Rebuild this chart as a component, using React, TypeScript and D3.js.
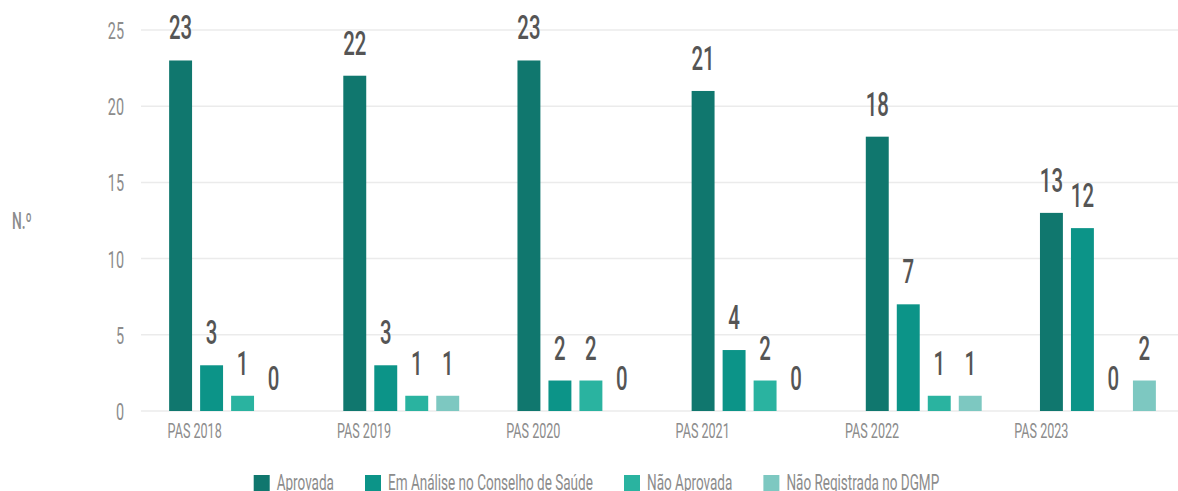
import React, { useEffect, useRef } from "react";
import * as d3 from "d3";

// data
const years = ["PAS 2018", "PAS 2019", "PAS 2020", "PAS 2021", "PAS 2022", "PAS 2023"];
const seriesNames = ["Aprovada", "Em Análise no Conselho de Saúde", "Não Aprovada", "Não Registrada no DGMP"];
const aprovada = [23, 22, 23, 21, 18, 13];
const emAnalise = [3, 3, 2, 4, 7, 12];
const naoAprovada = [1, 1, 2, 2, 1, 0];
const naoRegistrada = [0, 1, 0, 0, 1, 2];
const yTicks = [0, 5, 10, 15, 20, 25];
const colors = ["#10776e", "#0c9488", "#2ab3a0", "#7dc8c1"];

const W = 1178, H = 491;
const FONT = "Roboto, 'Noto Sans', sans-serif";
const SQ = 0.6; // horizontal squeeze -> condensed look

const App = () => {
	const svgRef = useRef<SVGSVGElement>(null);

	useEffect(() => {
		const svg = d3.select(svgRef.current);
		svg.selectAll("*").remove();

		const values = [aprovada, emAnalise, naoAprovada, naoRegistrada];
		const rows = years.map((yr, i) => ({ yr, vals: values.map(s => s[i]) }));

		const y = d3.scaleLinear().domain([0, 25]).range([411, 30]);
		const x0 = d3.scaleBand().domain(years).range([140, 1185]);
		const x1 = d3.scaleBand<number>().domain([0, 1, 2, 3])
			.range([0, x0.bandwidth()])
			.paddingInner(0.26)
			.paddingOuter(0.94);
		// category labels sit on their own slightly narrower spacing
		const xl = d3.scaleBand().domain(years).range([110, 1126]);

		const squeeze = (x: number, yy: number, s = SQ) => `translate(${x},${yy}) scale(${s},1)`;

		// grid
		svg.append("g")
			.selectAll("line")
			.data(yTicks)
			.join("line")
			.attr("x1", 141).attr("x2", W)
			.attr("y1", d => y(d)).attr("y2", d => y(d))
			.style("stroke", "#ebebeb")
			.style("stroke-width", 1.5);

		// y tick labels
		svg.append("g")
			.selectAll("text")
			.data(yTicks)
			.join("text")
			.attr("transform", d => squeeze(124, y(d) + 9))
			.attr("text-anchor", "end")
			.attr("font-family", FONT)
			.attr("font-size", 24)
			.style("fill", "#8c8c8c")
			.text(d => d);

		svg.append("text")
			.attr("transform", squeeze(12, 229))
			.attr("font-family", FONT)
			.attr("font-size", 23)
			.attr("font-weight", 500)
			.style("fill", "#8c8c8c")
			.text("N.º");

		// bars
		const groups = svg.append("g")
			.selectAll("g")
			.data(rows)
			.join("g")
			.attr("transform", d => `translate(${x0(d.yr)},0)`);

		groups.selectAll("rect")
			.data(d => d.vals)
			.join("rect")
			.attr("x", (d, i) => x1(i)!)
			.attr("y", d => y(d))
			.attr("width", x1.bandwidth())
			.attr("height", d => y(0) - y(d))
			.style("fill", (d, i) => colors[i]);

		groups.selectAll("text")
			.data(d => d.vals)
			.join("text")
			.attr("transform", (d, i) => squeeze(x1(i)! + x1.bandwidth() / 2, y(d) - 21))
			.attr("text-anchor", "middle")
			.attr("font-family", FONT)
			.attr("font-size", 34)
			.attr("font-weight", 500)
			.style("fill", "#555555")
			.text(d => d);

		// x labels
		svg.append("g")
			.selectAll("text")
			.data(years)
			.join("text")
			.attr("transform", d => squeeze(xl(d)! + xl.bandwidth() / 2, 438))
			.attr("text-anchor", "middle")
			.attr("font-family", FONT)
			.attr("font-size", 21)
			.style("fill", "#8c8c8c")
			.text(d => d);

		// legend (sits right at the bottom edge, as in the original)
		const LSQ = 0.615;
		const leg = svg.append("g");
		const items = leg.selectAll("g")
			.data(seriesNames)
			.join("g");
		items.append("rect")
			.attr("width", 16).attr("height", 16)
			.attr("y", 475)
			.style("fill", (d, i) => colors[i]);
		items.append("text")
			.attr("font-family", FONT)
			.attr("font-size", 22)
			.style("fill", "#8c8c8c")
			.text(d => d);
		const widths: number[] = [];
		items.select("text").each(function () {
			widths.push((this as SVGTextElement).getComputedTextLength() * LSQ);
		});
		const total = d3.sum(widths) + widths.length * 23 + (widths.length - 1) * 31;
		let cx = 596.5 - total / 2;
		items.each(function (d, i) {
			const g = d3.select(this);
			g.select("rect").attr("x", cx);
			g.select("text").attr("transform", squeeze(cx + 23, 490, LSQ));
			cx += 23 + widths[i] + 31;
		});
	}, []);

	return (
		<div style={{ position: "absolute", left: 0, top: 0 }}>
			<svg ref={svgRef} width={W} height={H} style={{ display: "block", background: "#fff" }}></svg>
		</div>
	);
};

export default App;
